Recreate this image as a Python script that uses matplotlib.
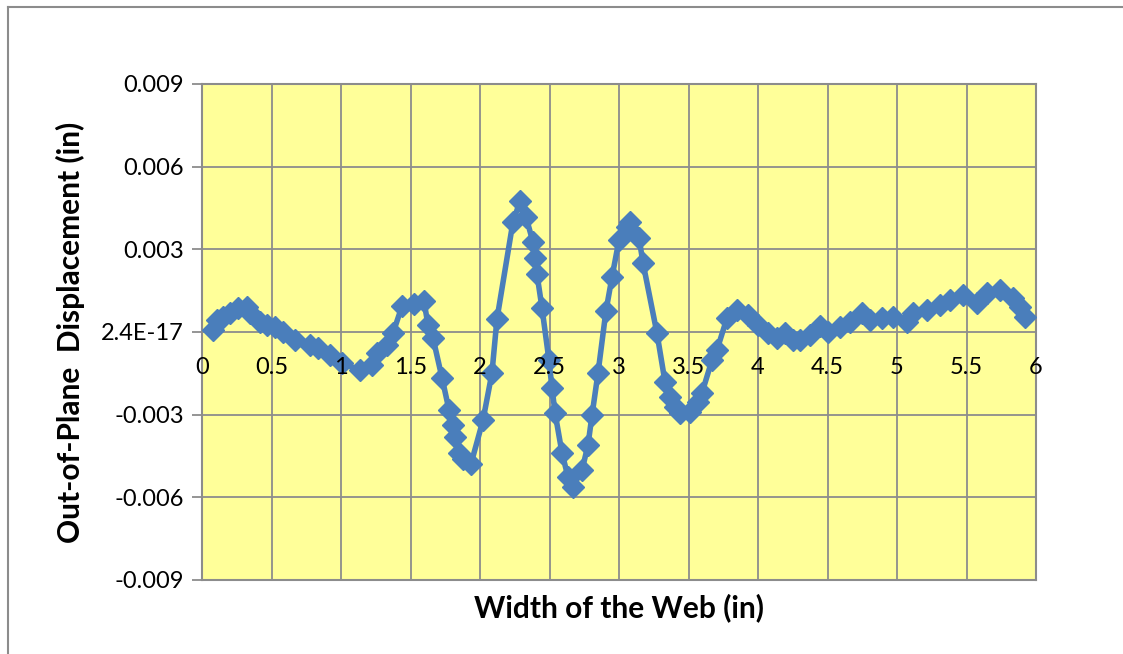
import matplotlib
matplotlib.use("Agg")
import matplotlib.pyplot as plt
from matplotlib.lines import Line2D

plt.rcParams["font.family"] = ["Lato", "DejaVu Sans"]

# out-of-plane displacement measured across the web
width_in = [0.079, 0.108, 0.151, 0.201, 0.259, 0.324, 0.345, 0.417, 0.468, 0.525,
            0.583, 0.669, 0.777, 0.835, 0.921, 1.007, 1.137, 1.223, 1.259, 1.331,
            1.374, 1.439, 1.525, 1.597, 1.626, 1.662, 1.727, 1.777, 1.806, 1.820,
            1.849, 1.878, 1.935, 2.022, 2.086, 2.122, 2.237, 2.288, 2.331, 2.381,
            2.396, 2.410, 2.446, 2.496, 2.518, 2.540, 2.590, 2.633, 2.669, 2.734,
            2.777, 2.806, 2.849, 2.906, 2.950, 3.000, 3.058, 3.079, 3.144, 3.173,
            3.273, 3.331, 3.367, 3.403, 3.439, 3.511, 3.568, 3.597, 3.669, 3.705,
            3.777, 3.849, 3.928, 4.000, 4.072, 4.137, 4.194, 4.252, 4.302, 4.374,
            4.446, 4.504, 4.590, 4.662, 4.748, 4.806, 4.892, 4.971, 5.072, 5.115,
            5.216, 5.309, 5.381, 5.475, 5.576, 5.647, 5.741, 5.835, 5.885, 5.921]
displacement = [0.00007, 0.00044, 0.00054, 0.00069, 0.00087, 0.00091, 0.00069, 0.00036, 0.00025, 0.00018,
                0.00000, -0.00029, -0.00047, -0.00058, -0.00083, -0.00113, -0.00138, -0.00120, -0.00076, -0.00047,
                -0.00004, 0.00094, 0.00102, 0.00112, 0.00025, -0.00022, -0.00167, -0.00283, -0.00338, -0.00381,
                -0.00439, -0.00461, -0.00479, -0.00319, -0.00149, 0.00047, 0.00399, 0.00475, 0.00417, 0.00327,
                0.00269, 0.00210, 0.00087, -0.00102, -0.00203, -0.00294, -0.00439, -0.00526, -0.00562, -0.00501,
                -0.00410, -0.00301, -0.00149, 0.00076, 0.00200, 0.00334, 0.00381, 0.00399, 0.00341, 0.00250,
                -0.00004, -0.00181, -0.00236, -0.00272, -0.00294, -0.00290, -0.00254, -0.00221, -0.00102, -0.00065,
                0.00051, 0.00080, 0.00062, 0.00025, -0.00004, -0.00022, -0.00004, -0.00029, -0.00029, -0.00011,
                0.00022, 0.00000, 0.00018, 0.00036, 0.00069, 0.00044, 0.00051, 0.00054, 0.00036, 0.00069,
                0.00080, 0.00098, 0.00116, 0.00134, 0.00105, 0.00142, 0.00152, 0.00123, 0.00091, 0.00054]

x_ticks = [0, 0.5, 1, 1.5, 2, 2.5, 3, 3.5, 4, 4.5, 5, 5.5, 6]
x_labels = ["0", "0.5", "1", "1.5", "2", "2.5", "3", "3.5", "4", "4.5", "5", "5.5", "6"]
y_ticks = [-0.009, -0.006, -0.003, 0.0, 0.003, 0.006, 0.009]
y_labels = ["-0.009", "-0.006", "-0.003", "2.4E-17", "0.003", "0.006", "0.009"]

fig = plt.figure(figsize=(11.23, 6.54), dpi=100)
W, H = 1123, 654
ax = fig.add_axes([202 / W, 1 - 580 / H, (1036 - 202) / W, (580 - 84) / H])
ax.set_facecolor("#FFFF99")

ax.plot(width_in, displacement, color="#4A7EBB", lw=4, marker="D",
        markersize=11, markerfacecolor="#4A7EBB", markeredgecolor="#4A7EBB", zorder=3)

ax.set_xlim(0, 6)
ax.set_ylim(-0.009, 0.009)
ax.set_xticks(x_ticks)
ax.set_yticks(y_ticks)
ax.set_yticklabels(y_labels)
ax.set_xticklabels([])
ax.grid(True, color="#8C8C8C", lw=1.3, zorder=0)
ax.set_axisbelow(True)

for s in ax.spines.values():
    s.set_color("#8C8C8C")
    s.set_linewidth(1.5)

ax.tick_params(axis="y", length=7, width=1.3, color="#8C8C8C", labelsize=17, pad=6)
ax.tick_params(axis="x", length=0)

# category labels sit just under the zero line
for xv, lab in zip(x_ticks, x_labels):
    ax.annotate(lab, xy=(xv, 0), xycoords="data", xytext=(0, -18),
                textcoords="offset points", ha="center", va="top", fontsize=17)

ax.set_xlabel("Width of the Web (in)", fontsize=21.5, fontweight="bold", labelpad=6)
ax.set_ylabel("Out-of-Plane  Displacement (in)", fontsize=21.5, fontweight="bold", labelpad=12)

# chart frame
fig.add_artist(Line2D([8 / W, 1], [1 - 7 / H, 1 - 7 / H], color="#8C8C8C", lw=1.5))
fig.add_artist(Line2D([8 / W, 8 / W], [0, 1 - 7 / H], color="#8C8C8C", lw=1.5))

fig.savefig("out.png", dpi=100)
